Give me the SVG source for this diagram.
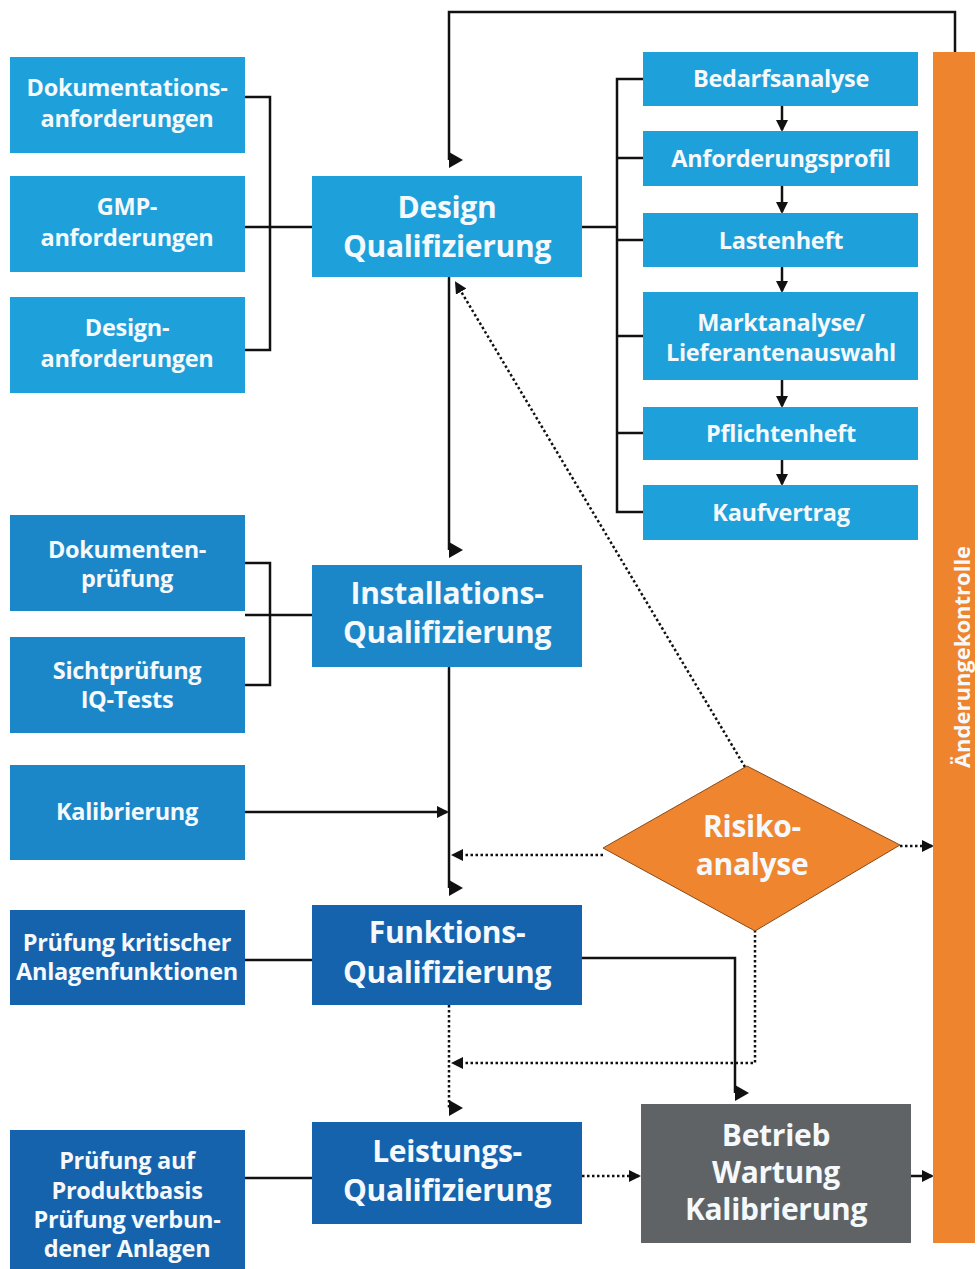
<svg xmlns="http://www.w3.org/2000/svg" width="979" height="1269" viewBox="0 0 979 1269">
<style>
.t{font-family:"Open Sans","Noto Sans","Liberation Sans",sans-serif;font-weight:700;fill:#f5f9fc;text-anchor:middle}
.s{font-size:23.5px;letter-spacing:-0.3px}
.b{font-size:30px;letter-spacing:-0.3px}
.c1{fill:#1ea0da}
.c2{fill:#1c87c8}
.c3{fill:#1562ad}
.ln{fill:none;stroke:#111;stroke-width:2.5}
.dt{fill:none;stroke:#111;stroke-width:2.5;stroke-dasharray:2.5 2.5}
</style>
<defs>
<marker id="a" viewBox="0 0 12 12" refX="10" refY="6" markerWidth="12" markerHeight="12" markerUnits="userSpaceOnUse" orient="auto"><path d="M0,0 L12,6 L0,12 Z" fill="#111"/></marker>
<marker id="r" viewBox="0 0 14 16" refX="0" refY="8" markerWidth="14" markerHeight="16" markerUnits="userSpaceOnUse" orient="0"><path d="M0,0 L14,8 L0,16 Z" fill="#111"/></marker>
</defs>
<rect width="979" height="1269" fill="#fff"/>
<g id="connectors">
<path class="ln" d="M213,97 H270 V350 H213 M213,227 H312"/>
<path class="ln" d="M582,227 H617 M643,79 H617 V512 H643 M617,158 H643 M617,240 H643 M617,336 H643 M617,433 H643"/>
<path class="ln" d="M782,106 V130" marker-end="url(#a)"/>
<path class="ln" d="M782,186 V212" marker-end="url(#a)"/>
<path class="ln" d="M782,267 V291" marker-end="url(#a)"/>
<path class="ln" d="M782,380 V406" marker-end="url(#a)"/>
<path class="ln" d="M782,460 V484" marker-end="url(#a)"/>
<path class="ln" d="M955,52 V12 H449 V160" marker-end="url(#r)"/>
<path class="ln" d="M449,276 V550" marker-end="url(#r)"/>
<path class="ln" d="M245,615 H270 M245,563 H270 V685 H245 M270,615 H312"/>
<path class="ln" d="M245,812 H447" marker-end="url(#a)"/>
<path class="ln" d="M449,667 V888" marker-end="url(#r)"/>
<path class="dt" d="M603,855 H453" marker-end="url(#a)"/>
<path class="ln" d="M245,960 H312"/>
<path class="ln" d="M582,958 H735 V1093" marker-end="url(#r)"/>
<path class="dt" d="M449,1005 V1108" marker-end="url(#r)"/>
<path class="dt" d="M755,930 V1063 H453" marker-end="url(#a)"/>
<path class="ln" d="M245,1178 H312"/>
<path class="dt" d="M582,1176 H639" marker-end="url(#a)"/>
<path class="ln" d="M911,1176 H932" marker-end="url(#a)"/>
<path class="dt" d="M745,767 L456,283" marker-end="url(#a)"/>
<path class="dt" d="M900,846 H932" marker-end="url(#a)"/>
</g>
<g id="doku"><rect class="c1" x="10" y="57" width="235" height="96"/><text class="t s" x="127" y="96">Dokumentations-</text><text class="t s" x="127" y="127">anforderungen</text></g>
<g id="gmp"><rect class="c1" x="10" y="176" width="235" height="96"/><text class="t s" x="127" y="215">GMP-</text><text class="t s" x="127" y="246">anforderungen</text></g>
<g id="designanf"><rect class="c1" x="10" y="297" width="235" height="96"/><text class="t s" x="127" y="336">Design-</text><text class="t s" x="127" y="367">anforderungen</text></g>
<g id="dq"><rect class="c1" x="312" y="176" width="270" height="101"/><text class="t b" x="447" y="218">Design</text><text class="t b" x="447" y="257">Qualifizierung</text></g>
<g id="bedarf"><rect class="c1" x="643" y="52" width="275" height="54"/><text class="t s" x="781" y="87">Bedarfsanalyse</text></g>
<g id="anfprofil"><rect class="c1" x="643" y="131" width="275" height="55"/><text class="t s" x="781" y="167">Anforderungsprofil</text></g>
<g id="lasten"><rect class="c1" x="643" y="213" width="275" height="54"/><text class="t s" x="781" y="249">Lastenheft</text></g>
<g id="markt"><rect class="c1" x="643" y="292" width="275" height="88"/><text class="t s" x="781" y="331">Marktanalyse/</text><text class="t s" x="781" y="361">Lieferantenauswahl</text></g>
<g id="pflicht"><rect class="c1" x="643" y="407" width="275" height="53"/><text class="t s" x="781" y="442">Pflichtenheft</text></g>
<g id="kauf"><rect class="c1" x="643" y="485" width="275" height="55"/><text class="t s" x="781" y="521">Kaufvertrag</text></g>
<g id="aenderung"><rect x="933" y="52" width="42" height="1191" fill="#ef842e"/><text class="t" font-size="22" fill="#fbeee4" transform="translate(970,657) rotate(-90)">Änderungekontrolle</text></g>
<g id="dokpruef"><rect class="c2" x="10" y="515" width="235" height="96"/><text class="t s" x="127" y="558">Dokumenten-</text><text class="t s" x="127" y="587">prüfung</text></g>
<g id="sicht"><rect class="c2" x="10" y="637" width="235" height="96"/><text class="t s" x="127" y="679">Sichtprüfung</text><text class="t s" x="127" y="708">IQ-Tests</text></g>
<g id="iq"><rect class="c2" x="312" y="565" width="270" height="102"/><text class="t b" x="447" y="604">Installations-</text><text class="t b" x="447" y="643">Qualifizierung</text></g>
<g id="kalib"><rect class="c2" x="10" y="765" width="235" height="95"/><text class="t s" x="127" y="820">Kalibrierung</text></g>
<g id="risiko"><path d="M603,848 L747,766 L900,845 L755,931 Z" fill="#ef852f" stroke="#8a4a18" stroke-width="1"/><text class="t b" x="752" y="837">Risiko-</text><text class="t b" x="752" y="875">analyse</text></g>
<g id="pkrit"><rect class="c3" x="10" y="910" width="235" height="95"/><text class="t s" x="127" y="951">Prüfung kritischer</text><text class="t s" x="127" y="980">Anlagenfunktionen</text></g>
<g id="oq"><rect class="c3" x="312" y="905" width="270" height="100"/><text class="t b" x="447" y="943">Funktions-</text><text class="t b" x="447" y="983">Qualifizierung</text></g>
<g id="pprod"><rect class="c3" x="10" y="1130" width="235" height="139"/><text class="t s" x="127" y="1169">Prüfung auf</text><text class="t s" x="127" y="1199">Produktbasis</text><text class="t s" x="127" y="1228">Prüfung verbun-</text><text class="t s" x="127" y="1257">dener Anlagen</text></g>
<g id="pq"><rect class="c3" x="312" y="1122" width="270" height="102"/><text class="t b" x="447" y="1162">Leistungs-</text><text class="t b" x="447" y="1201">Qualifizierung</text></g>
<g id="betrieb"><rect x="641" y="1104" width="270" height="139" fill="#5f6366"/><text class="t b" x="776" y="1146">Betrieb</text><text class="t b" x="776" y="1183">Wartung</text><text class="t b" x="776" y="1220">Kalibrierung</text></g>
</svg>
